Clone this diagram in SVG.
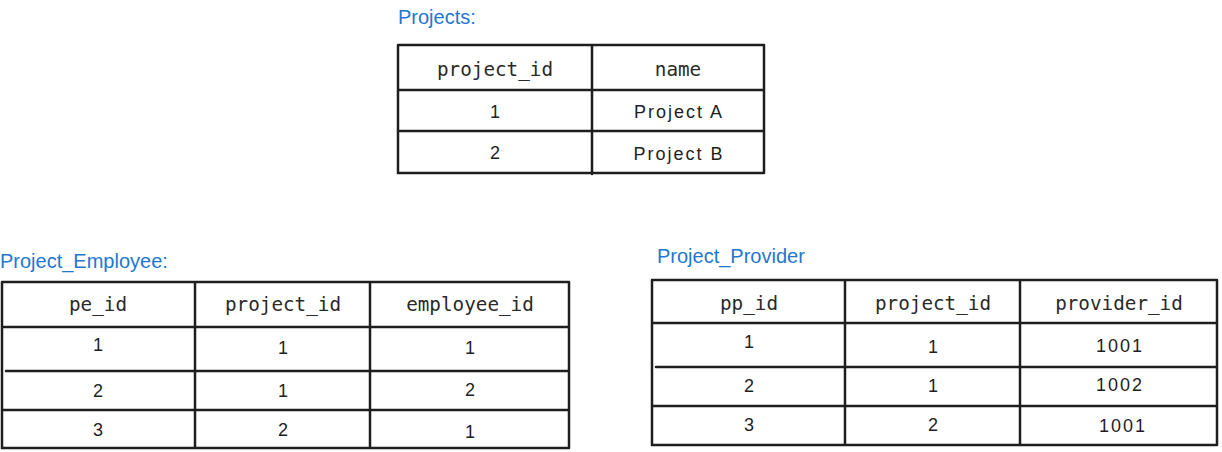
<svg xmlns="http://www.w3.org/2000/svg" width="1222" height="452" viewBox="0 0 1222 452">
<style>
.bg{fill:#ffffff}
.grid{fill:none;stroke:#1e1e1e;stroke-width:2.5;stroke-linecap:round}
.title{font-family:"Liberation Sans",Arial,sans-serif;font-size:20px;fill:#1f77d0}
.hdr{font-family:"DejaVu Sans Mono","Liberation Mono",monospace;font-size:19.3px;fill:#2a2a2a;text-anchor:middle}
.val{font-family:"Liberation Sans",Arial,sans-serif;font-size:18px;fill:#1e1e1e;text-anchor:middle}
.name{letter-spacing:2px}
</style>
<rect class="bg" x="0" y="0" width="1222" height="452"/>

<g id="projects">
<text class="title" x="398" y="24">Projects:</text>
<path class="grid" d="M398 45 L764 45 M398 45 L398 173 L764 173 M764 45 L764 173 M592 45 L592 174 M398 90 L764 90 M400 131 L764 131"/>
<text class="hdr" x="495" y="76">project_id</text>
<text class="hdr" x="678" y="76">name</text>
<text class="val" x="495" y="118">1</text>
<text class="val name" x="679" y="118">Project A</text>
<text class="val" x="495" y="159">2</text>
<text class="val name" x="679" y="160">Project B</text>
</g>

<g id="project_employee">
<text class="title" x="0" y="268">Project_Employee:</text>
<path class="grid" d="M2 282 L569 282 M2 282 L2 448 L569 448 M569 282 L569 448 M195 282 L195 448 M370 282 L370 448 M2 327 L569 327 M6 371 L569 371 M2 410 L569 410"/>
<text class="hdr" x="98" y="311">pe_id</text>
<text class="hdr" x="283" y="311">project_id</text>
<text class="hdr" x="470" y="311">employee_id</text>
<text class="val" x="98" y="351">1</text>
<text class="val" x="283" y="354">1</text>
<text class="val" x="470" y="354">1</text>
<text class="val" x="98" y="397">2</text>
<text class="val" x="283" y="397">1</text>
<text class="val" x="470" y="396">2</text>
<text class="val" x="98" y="436">3</text>
<text class="val" x="283" y="436">2</text>
<text class="val" x="470" y="438">1</text>
</g>

<g id="project_provider">
<text class="title" x="657" y="263">Project_Provider</text>
<path class="grid" d="M652 280 L1217 280 M652 280 L652 445 L1217 445 M1217 280 L1217 445 M845 280 L845 445 M1020 280 L1020 445 M652 323 L1217 323 M656 367 L1217 367 M652 406 L1217 406"/>
<text class="hdr" x="749" y="310">pp_id</text>
<text class="hdr" x="933" y="310">project_id</text>
<text class="hdr" x="1119" y="310">provider_id</text>
<text class="val" x="749" y="348">1</text>
<text class="val" x="933" y="353">1</text>
<text class="val name" x="1120" y="352">1001</text>
<text class="val" x="749" y="392">2</text>
<text class="val" x="933" y="392">1</text>
<text class="val name" x="1120" y="391">1002</text>
<text class="val" x="749" y="431">3</text>
<text class="val" x="933" y="431">2</text>
<text class="val name" x="1123" y="432">1001</text>
</g>
</svg>
